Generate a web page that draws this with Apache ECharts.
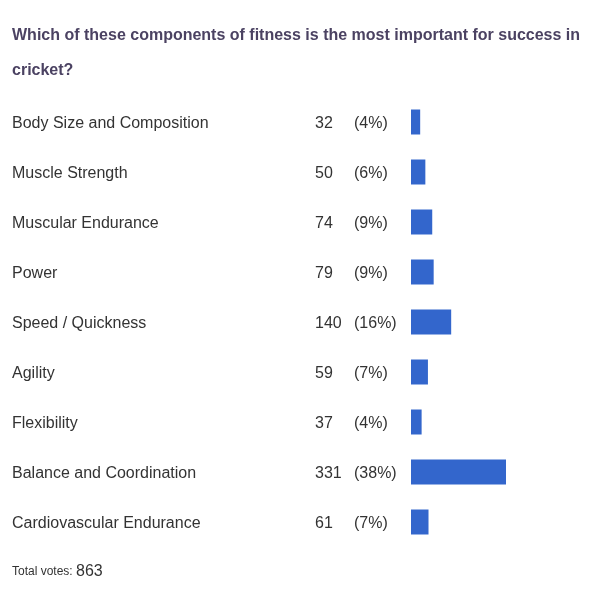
<!DOCTYPE html>
<html>
<head>
<meta charset="utf-8">
<script src="https://cdn.jsdelivr.net/npm/echarts@6/dist/echarts.min.js"></script>
<style>html,body{margin:0;padding:0;background:#fff}#c{width:602px;height:606px}</style>
</head>
<body>
<div id="c"></div>
<script>
var categories = ["Body Size and Composition","Muscle Strength","Muscular Endurance","Power","Speed / Quickness","Agility","Flexibility","Balance and Coordination","Cardiovascular Endurance"];
var votes = [32, 50, 74, 79, 140, 59, 37, 331, 61];
var percents = ["(4%)","(6%)","(9%)","(9%)","(16%)","(7%)","(4%)","(38%)","(7%)"];
var totalVotes = 863;
var titleText = "Which of these components of fitness is the most important for success in\ncricket?";

var chart = echarts.init(document.getElementById('c'), null, {renderer:'canvas'});
var font = "Arial, 'Liberation Sans', sans-serif";
chart.setOption({
  animation: false,
  textStyle: {fontFamily: font},
  title: {
    text: titleText,
    left: 12, top: 18, padding: 0,
    textStyle: {fontFamily: font, fontSize: 16, fontWeight: 'bold', color: '#4b4262', lineHeight: 35}
  },
  grid: {left: 411, top: 97, width: 95, height: 450},
  xAxis: {type: 'value', min: 0, max: 331, show: false},
  yAxis: {
    type: 'category', data: categories, inverse: true,
    axisLine: {show: false}, axisTick: {show: false}, splitLine: {show: false},
    axisLabel: {
      align: 'left', margin: 399, padding: [4, 0, 0, 0],
      formatter: function (v, i) {
        return '{n|' + v + '}{c|' + votes[i] + '}{p|' + percents[i] + '}';
      },
      rich: {
        n: {width: 303, fontSize: 16, color: '#333', fontFamily: font},
        c: {width: 39, fontSize: 16, color: '#333', fontFamily: font},
        p: {fontSize: 16, color: '#333', fontFamily: font}
      }
    }
  },
  series: [{
    type: 'bar', data: votes, barWidth: 25,
    itemStyle: {color: '#3366cc'}, silent: true
  }],
  graphic: [{
    type: 'text', left: 12, top: 564,
    style: {
      text: '{a|Total votes: }{b|' + totalVotes + '}',
      rich: {
        a: {fontSize: 12, fill: '#333', fontFamily: font},
        b: {fontSize: 16, fill: '#333', fontFamily: font}
      }
    }
  }]
});
</script>
</body>
</html>
